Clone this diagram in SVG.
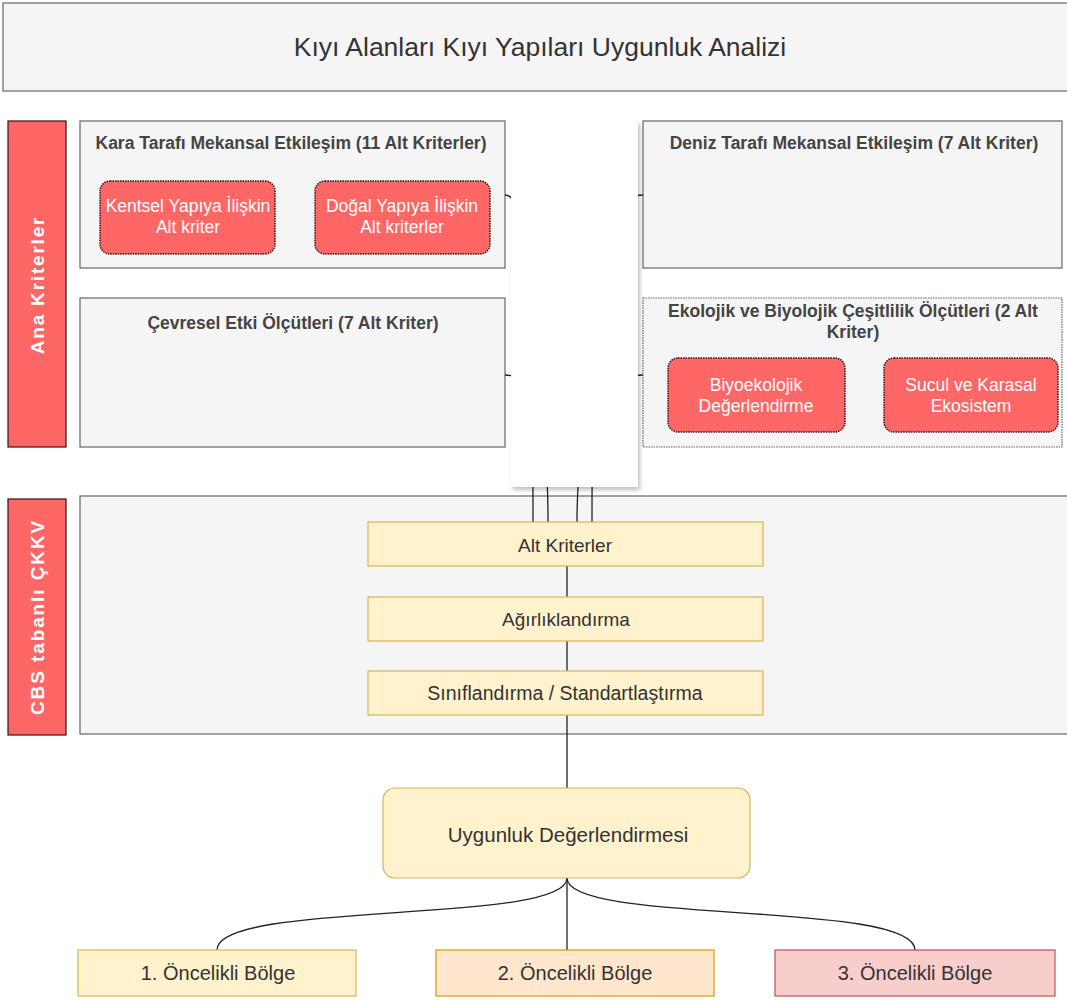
<svg xmlns="http://www.w3.org/2000/svg" width="1067" height="1000" viewBox="0 0 1067 1000">
<style>
.grey{fill:#f5f5f5;stroke:#666;stroke-width:1.2}
.red{fill:#ff6666;stroke:#3a1010;stroke-width:1.2}
.redbox{fill:#ff6666;stroke:#3a1010;stroke-width:1.5;stroke-dasharray:1.5 1}
.yel{fill:#fff2cc;stroke:#d6b656;stroke-width:1.2}
.ora{fill:#ffe6cc;stroke:#d79b00;stroke-width:1.2}
.pnk{fill:#f8cecc;stroke:#b85450;stroke-width:1.2}
.t{font-family:"Liberation Sans",Arial,sans-serif;fill:#333;text-anchor:middle;dominant-baseline:central}
.tb{font-family:"Liberation Sans",Arial,sans-serif;fill:#444;text-anchor:middle;dominant-baseline:central;font-weight:bold;font-size:17.5px}
.tw{font-family:"Liberation Sans",Arial,sans-serif;fill:#fff;text-anchor:middle;dominant-baseline:central;font-size:17.5px}
.twb{font-family:"Liberation Sans",Arial,sans-serif;fill:#fff;text-anchor:middle;dominant-baseline:central;font-size:19px;font-weight:bold}
.c{fill:none;stroke:#222;stroke-width:1.3}
</style>
<defs>
<filter id="sh" x="-10%" y="-10%" width="130%" height="120%">
<feDropShadow dx="2" dy="3" stdDeviation="2" flood-color="#000" flood-opacity="0.25"/>
</filter>
</defs>
<rect width="1067" height="1000" fill="#fff"/>

<g id="title">
<rect class="grey" x="3" y="3" width="1070" height="88"/>
<text class="t" x="540" y="47" font-size="26.5">Kıyı Alanları Kıyı Yapıları Uygunluk Analizi</text>
</g>

<g id="ana-kriterler">
<rect class="red" x="8" y="121" width="58" height="326"/>
<text class="twb" transform="translate(37,285) rotate(-90)" letter-spacing="1.8">Ana Kriterler</text>
</g>

<g id="kara">
<rect class="grey" x="80" y="121" width="425" height="147"/>
<text class="tb" x="291" y="143">Kara Tarafı Mekansal Etkileşim (11 Alt Kriterler)</text>
</g>
<g id="kentsel">
<rect class="redbox" x="100" y="181" width="175" height="73" rx="10"/>
<text class="tw" x="188" y="206" font-size="18.3">Kentsel Yapıya İlişkin</text>
<text class="tw" x="188" y="227">Alt kriter</text>
</g>
<g id="dogal">
<rect class="redbox" x="315" y="181" width="175" height="73" rx="10"/>
<text class="tw" x="402" y="206">Doğal Yapıya İlişkin</text>
<text class="tw" x="402" y="227">Alt kriterler</text>
</g>

<g id="deniz">
<rect class="grey" x="643" y="121" width="419" height="147"/>
<text class="tb" x="854" y="143">Deniz Tarafı Mekansal Etkileşim (7 Alt Kriter)</text>
</g>

<g id="cevresel">
<rect class="grey" x="80" y="298" width="425" height="149"/>
<text class="tb" x="293" y="323">Çevresel Etki Ölçütleri  (7 Alt Kriter)</text>
</g>

<g id="ekolojik">
<rect class="grey" x="643" y="298" width="419" height="149" stroke-dasharray="1.5 1"/>
<text class="tb" x="853" y="311">Ekolojik ve Biyolojik Çeşitlilik Ölçütleri  (2 Alt</text>
<text class="tb" x="853" y="332">Kriter)</text>
</g>
<g id="biyoekolojik">
<rect class="redbox" x="668" y="358" width="177" height="74" rx="10"/>
<text class="tw" x="756" y="385">Biyoekolojik</text>
<text class="tw" x="756" y="406">Değerlendirme</text>
</g>
<g id="sucul">
<rect class="redbox" x="884" y="358" width="174" height="74" rx="10"/>
<text class="tw" x="971" y="385">Sucul ve Karasal</text>
<text class="tw" x="971" y="406">Ekosistem</text>
</g>

<g id="cbs">
<rect class="red" x="8" y="499" width="58" height="236"/>
<text class="twb" transform="translate(37,617) rotate(-90)" letter-spacing="1.9">CBS tabanlı ÇKKV</text>
</g>
<g id="cbs-panel">
<rect class="grey" x="80" y="496" width="990" height="238"/>
</g>

<g id="connectors">
<path class="c" d="M505,195 C530,195 533,300 533,522"/>
<path class="c" d="M505,375 C535,375 548,420 548,522"/>
<path class="c" d="M643,375 C600,375 577,420 577,522"/>
<path class="c" d="M643,195 C600,195 592,300 592,522"/>
<path class="c" d="M567,566 V597 M567,641 V671 M567,715 V788"/>
<path class="c" d="M567,878 V950"/>
<path class="c" d="M567,878 C567,925 217,900 217,950"/>
<path class="c" d="M567,878 C567,925 915,900 915,950"/>
</g>

<g id="hub">
<rect x="511" y="121" width="127" height="366" fill="#fff" filter="url(#sh)"/>
</g>

<g id="alt-kriterler">
<rect class="yel" x="368" y="522" width="395" height="44"/>
<text class="t" x="565" y="545" font-size="19">Alt Kriterler</text>
</g>
<g id="agirliklandirma">
<rect class="yel" x="368" y="597" width="395" height="44"/>
<text class="t" x="566" y="619" font-size="19">Ağırlıklandırma</text>
</g>
<g id="siniflandirma">
<rect class="yel" x="368" y="671" width="395" height="44"/>
<text class="t" x="565" y="693" font-size="19.5">Sınıflandırma / Standartlaştırma</text>
</g>

<g id="uygunluk">
<rect class="yel" x="383" y="788" width="367" height="90" rx="12"/>
<text class="t" x="568" y="834" font-size="20.5">Uygunluk Değerlendirmesi</text>
</g>

<g id="bolge1">
<rect class="yel" x="78" y="950" width="278" height="46"/>
<text class="t" x="218" y="973" font-size="20">1. Öncelikli Bölge</text>
</g>
<g id="bolge2">
<rect class="ora" x="436" y="950" width="278" height="46"/>
<text class="t" x="575" y="973" font-size="20">2. Öncelikli Bölge</text>
</g>
<g id="bolge3">
<rect class="pnk" x="775" y="950" width="280" height="46"/>
<text class="t" x="915" y="973" font-size="20">3. Öncelikli Bölge</text>
</g>
</svg>
